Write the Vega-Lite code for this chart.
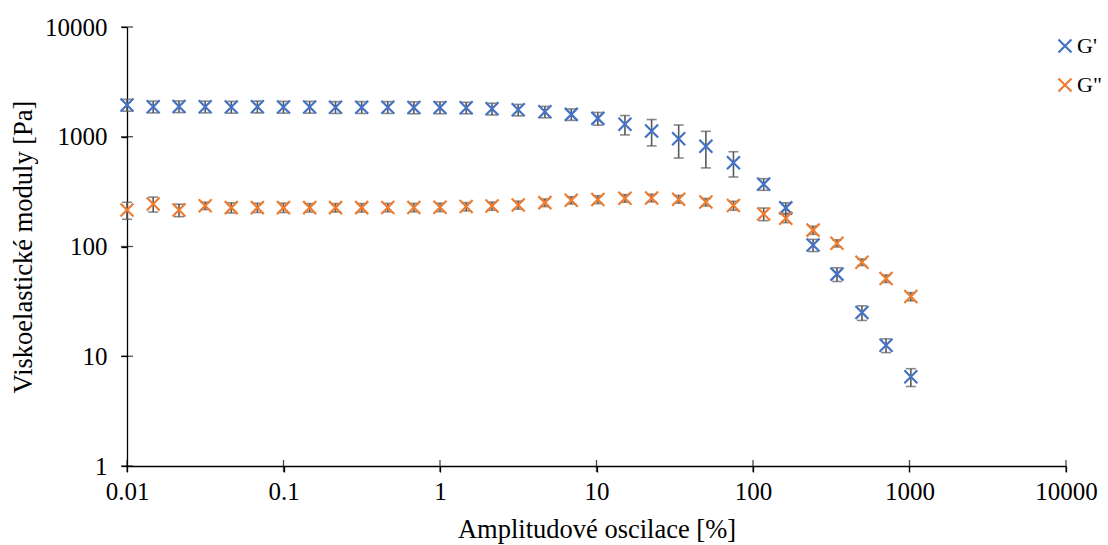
{
  "$schema": "https://vega.github.io/schema/vega-lite/v6.json",
  "width": 939,
  "height": 439,
  "autosize": "none",
  "padding": {"left": 127, "top": 27, "right": 42, "bottom": 79},
  "background": "white",
  "config": {
    "view": {"stroke": null},
    "font": "Liberation Serif",
    "axis": {"grid": false, "domainColor": "black", "domainWidth": 1.3, "ticks": true, "tickSize": 6, "tickColor": "black", "tickWidth": 1.3, "labelFont": "Liberation Serif", "labelFontSize": 25, "labelColor": "black", "labelFlush": false, "labelOverlap": false, "titleFont": "Liberation Serif", "titleFontSize": 26.5, "titleFontWeight": "normal", "titleColor": "black", "format": "~g"},
    "axisX": {"labelPadding": 7, "titlePadding": 12},
    "axisY": {"labelPadding": 14, "titlePadding": 7}
  },
  "datasets": {
    "pts": [
      {"x": 0.01, "s": "G'", "y": 1950, "lo": 1710, "hi": 2190},
      {"x": 0.0147, "s": "G'", "y": 1880, "lo": 1650, "hi": 2110},
      {"x": 0.0215, "s": "G'", "y": 1890, "lo": 1660, "hi": 2120},
      {"x": 0.0316, "s": "G'", "y": 1880, "lo": 1650, "hi": 2110},
      {"x": 0.0464, "s": "G'", "y": 1870, "lo": 1640, "hi": 2100},
      {"x": 0.0681, "s": "G'", "y": 1880, "lo": 1650, "hi": 2110},
      {"x": 0.1, "s": "G'", "y": 1870, "lo": 1640, "hi": 2100},
      {"x": 0.147, "s": "G'", "y": 1870, "lo": 1640, "hi": 2100},
      {"x": 0.215, "s": "G'", "y": 1860, "lo": 1630, "hi": 2090},
      {"x": 0.316, "s": "G'", "y": 1860, "lo": 1630, "hi": 2090},
      {"x": 0.464, "s": "G'", "y": 1860, "lo": 1630, "hi": 2090},
      {"x": 0.681, "s": "G'", "y": 1850, "lo": 1620, "hi": 2080},
      {"x": 1, "s": "G'", "y": 1850, "lo": 1620, "hi": 2080},
      {"x": 1.47, "s": "G'", "y": 1840, "lo": 1620, "hi": 2060},
      {"x": 2.15, "s": "G'", "y": 1800, "lo": 1580, "hi": 2020},
      {"x": 3.16, "s": "G'", "y": 1760, "lo": 1550, "hi": 1970},
      {"x": 4.68, "s": "G'", "y": 1690, "lo": 1490, "hi": 1890},
      {"x": 6.9, "s": "G'", "y": 1600, "lo": 1410, "hi": 1790},
      {"x": 10.2, "s": "G'", "y": 1470, "lo": 1275, "hi": 1665},
      {"x": 15.2, "s": "G'", "y": 1300, "lo": 1040, "hi": 1560},
      {"x": 22.5, "s": "G'", "y": 1130, "lo": 825, "hi": 1435},
      {"x": 33.5, "s": "G'", "y": 960, "lo": 640, "hi": 1280},
      {"x": 50, "s": "G'", "y": 820, "lo": 520, "hi": 1120},
      {"x": 75, "s": "G'", "y": 580, "lo": 430, "hi": 730},
      {"x": 117, "s": "G'", "y": 370, "lo": 325, "hi": 415},
      {"x": 162, "s": "G'", "y": 225, "lo": 200, "hi": 250},
      {"x": 242, "s": "G'", "y": 103, "lo": 90, "hi": 116},
      {"x": 344, "s": "G'", "y": 56, "lo": 48, "hi": 64},
      {"x": 497, "s": "G'", "y": 25, "lo": 21.2, "hi": 28.8},
      {"x": 708, "s": "G'", "y": 12.6, "lo": 10.8, "hi": 14.4},
      {"x": 1020, "s": "G'", "y": 6.5, "lo": 5.3, "hi": 7.7},
      {"x": 0.01, "s": "G\"", "y": 215, "lo": 177, "hi": 253},
      {"x": 0.0147, "s": "G\"", "y": 244, "lo": 206, "hi": 282},
      {"x": 0.0215, "s": "G\"", "y": 215, "lo": 187, "hi": 243},
      {"x": 0.0316, "s": "G\"", "y": 235, "lo": 217, "hi": 253},
      {"x": 0.0464, "s": "G\"", "y": 226, "lo": 202, "hi": 250},
      {"x": 0.0681, "s": "G\"", "y": 226, "lo": 204, "hi": 248},
      {"x": 0.1, "s": "G\"", "y": 226, "lo": 204, "hi": 248},
      {"x": 0.147, "s": "G\"", "y": 226, "lo": 206, "hi": 246},
      {"x": 0.215, "s": "G\"", "y": 226, "lo": 206, "hi": 246},
      {"x": 0.316, "s": "G\"", "y": 226, "lo": 206, "hi": 246},
      {"x": 0.464, "s": "G\"", "y": 227, "lo": 207, "hi": 247},
      {"x": 0.681, "s": "G\"", "y": 227, "lo": 207, "hi": 247},
      {"x": 1, "s": "G\"", "y": 228, "lo": 208, "hi": 248},
      {"x": 1.47, "s": "G\"", "y": 231, "lo": 211, "hi": 251},
      {"x": 2.15, "s": "G\"", "y": 234, "lo": 214, "hi": 254},
      {"x": 3.16, "s": "G\"", "y": 239, "lo": 219, "hi": 259},
      {"x": 4.68, "s": "G\"", "y": 251, "lo": 231, "hi": 271},
      {"x": 6.9, "s": "G\"", "y": 264, "lo": 244, "hi": 284},
      {"x": 10.2, "s": "G\"", "y": 268, "lo": 246, "hi": 290},
      {"x": 15.2, "s": "G\"", "y": 275, "lo": 253, "hi": 297},
      {"x": 22.5, "s": "G\"", "y": 277, "lo": 255, "hi": 299},
      {"x": 33.5, "s": "G\"", "y": 270, "lo": 248, "hi": 292},
      {"x": 50, "s": "G\"", "y": 254, "lo": 234, "hi": 274},
      {"x": 75, "s": "G\"", "y": 236, "lo": 214, "hi": 258},
      {"x": 117, "s": "G\"", "y": 198, "lo": 172, "hi": 224},
      {"x": 162, "s": "G\"", "y": 181, "lo": 165, "hi": 197},
      {"x": 242, "s": "G\"", "y": 141, "lo": 129, "hi": 153},
      {"x": 344, "s": "G\"", "y": 107, "lo": 99, "hi": 115},
      {"x": 497, "s": "G\"", "y": 72, "lo": 67, "hi": 77},
      {"x": 708, "s": "G\"", "y": 51, "lo": 47, "hi": 55},
      {"x": 1020, "s": "G\"", "y": 35, "lo": 32, "hi": 38}
    ],
    "xt": [{"v": 0.01}, {"v": 0.1}, {"v": 1}, {"v": 10}, {"v": 100}, {"v": 1000}, {"v": 10000}],
    "yt": [{"v": 1}, {"v": 10}, {"v": 100}, {"v": 1000}, {"v": 10000}]
  },
  "layer": [
    {
      "data": {"name": "pts"},
      "mark": {"type": "rule", "color": "#595959", "strokeWidth": 1.6},
      "encoding": {
        "x": {"field": "x", "type": "quantitative", "scale": {"type": "log", "domain": [0.01, 10000], "nice": false}, "title": "Amplitudové oscilace [%]", "axis": {"values": [0.01, 0.1, 1, 10, 100, 1000, 10000]}},
        "y": {"field": "lo", "type": "quantitative", "scale": {"type": "log", "domain": [1, 10000], "nice": false}, "title": "Viskoelastické moduly [Pa]", "axis": {"values": [1, 10, 100, 1000, 10000]}},
        "y2": {"field": "hi"}
      }
    },
    {
      "data": {"name": "pts"},
      "mark": {"type": "tick", "orient": "horizontal", "color": "#595959", "size": 10, "thickness": 1.6},
      "encoding": {
        "x": {"field": "x", "type": "quantitative", "scale": {"type": "log", "domain": [0.01, 10000], "nice": false}, "title": "Amplitudové oscilace [%]", "axis": {"values": [0.01, 0.1, 1, 10, 100, 1000, 10000]}},
        "y": {"field": "lo", "type": "quantitative", "scale": {"type": "log", "domain": [1, 10000], "nice": false}, "title": "Viskoelastické moduly [Pa]", "axis": {"values": [1, 10, 100, 1000, 10000]}}
      }
    },
    {
      "data": {"name": "pts"},
      "mark": {"type": "tick", "orient": "horizontal", "color": "#595959", "size": 10, "thickness": 1.6},
      "encoding": {
        "x": {"field": "x", "type": "quantitative", "scale": {"type": "log", "domain": [0.01, 10000], "nice": false}, "title": "Amplitudové oscilace [%]", "axis": {"values": [0.01, 0.1, 1, 10, 100, 1000, 10000]}},
        "y": {"field": "hi", "type": "quantitative", "scale": {"type": "log", "domain": [1, 10000], "nice": false}, "title": "Viskoelastické moduly [Pa]", "axis": {"values": [1, 10, 100, 1000, 10000]}}
      }
    },
    {
      "data": {"name": "pts"},
      "mark": {"type": "point", "shape": "M-1,-1L1,1M-1,1L1,-1", "size": 169, "strokeWidth": 2.2, "filled": false, "opacity": 1},
      "encoding": {
        "x": {"field": "x", "type": "quantitative", "scale": {"type": "log", "domain": [0.01, 10000], "nice": false}, "title": "Amplitudové oscilace [%]", "axis": {"values": [0.01, 0.1, 1, 10, 100, 1000, 10000]}},
        "y": {"field": "y", "type": "quantitative", "scale": {"type": "log", "domain": [1, 10000], "nice": false}, "title": "Viskoelastické moduly [Pa]", "axis": {"values": [1, 10, 100, 1000, 10000]}},
        "color": {"field": "s", "type": "nominal", "scale": {"domain": ["G'", "G\""], "range": ["#4472C4", "#ED7D31"]},
          "legend": {"title": null, "orient": "none", "legendX": 927, "legendY": 8, "symbolType": "M-1,-1L1,1M-1,1L1,-1", "symbolSize": 169, "symbolStrokeWidth": 2.2, "labelFont": "Liberation Serif", "labelFontSize": 22, "labelColor": "black", "rowPadding": 17, "labelOffset": 1}}
      }
    },
    {
      "data": {"name": "yt"},
      "mark": {"type": "tick", "orient": "horizontal", "color": "black", "size": 12, "thickness": 1.3},
      "encoding": {
        "y": {"field": "v", "type": "quantitative", "scale": {"type": "log", "domain": [1, 10000], "nice": false}, "title": "Viskoelastické moduly [Pa]", "axis": {"values": [1, 10, 100, 1000, 10000]}},
        "x": {"datum": 0.01, "type": "quantitative", "scale": {"type": "log", "domain": [0.01, 10000], "nice": false}, "title": "Amplitudové oscilace [%]", "axis": {"values": [0.01, 0.1, 1, 10, 100, 1000, 10000]}}
      }
    },
    {
      "data": {"name": "xt"},
      "mark": {"type": "tick", "orient": "vertical", "color": "black", "size": 12, "thickness": 1.3},
      "encoding": {
        "x": {"field": "v", "type": "quantitative", "scale": {"type": "log", "domain": [0.01, 10000], "nice": false}, "title": "Amplitudové oscilace [%]", "axis": {"values": [0.01, 0.1, 1, 10, 100, 1000, 10000]}},
        "y": {"datum": 1, "type": "quantitative", "scale": {"type": "log", "domain": [1, 10000], "nice": false}, "title": "Viskoelastické moduly [Pa]", "axis": {"values": [1, 10, 100, 1000, 10000]}}
      }
    }
  ]
}
